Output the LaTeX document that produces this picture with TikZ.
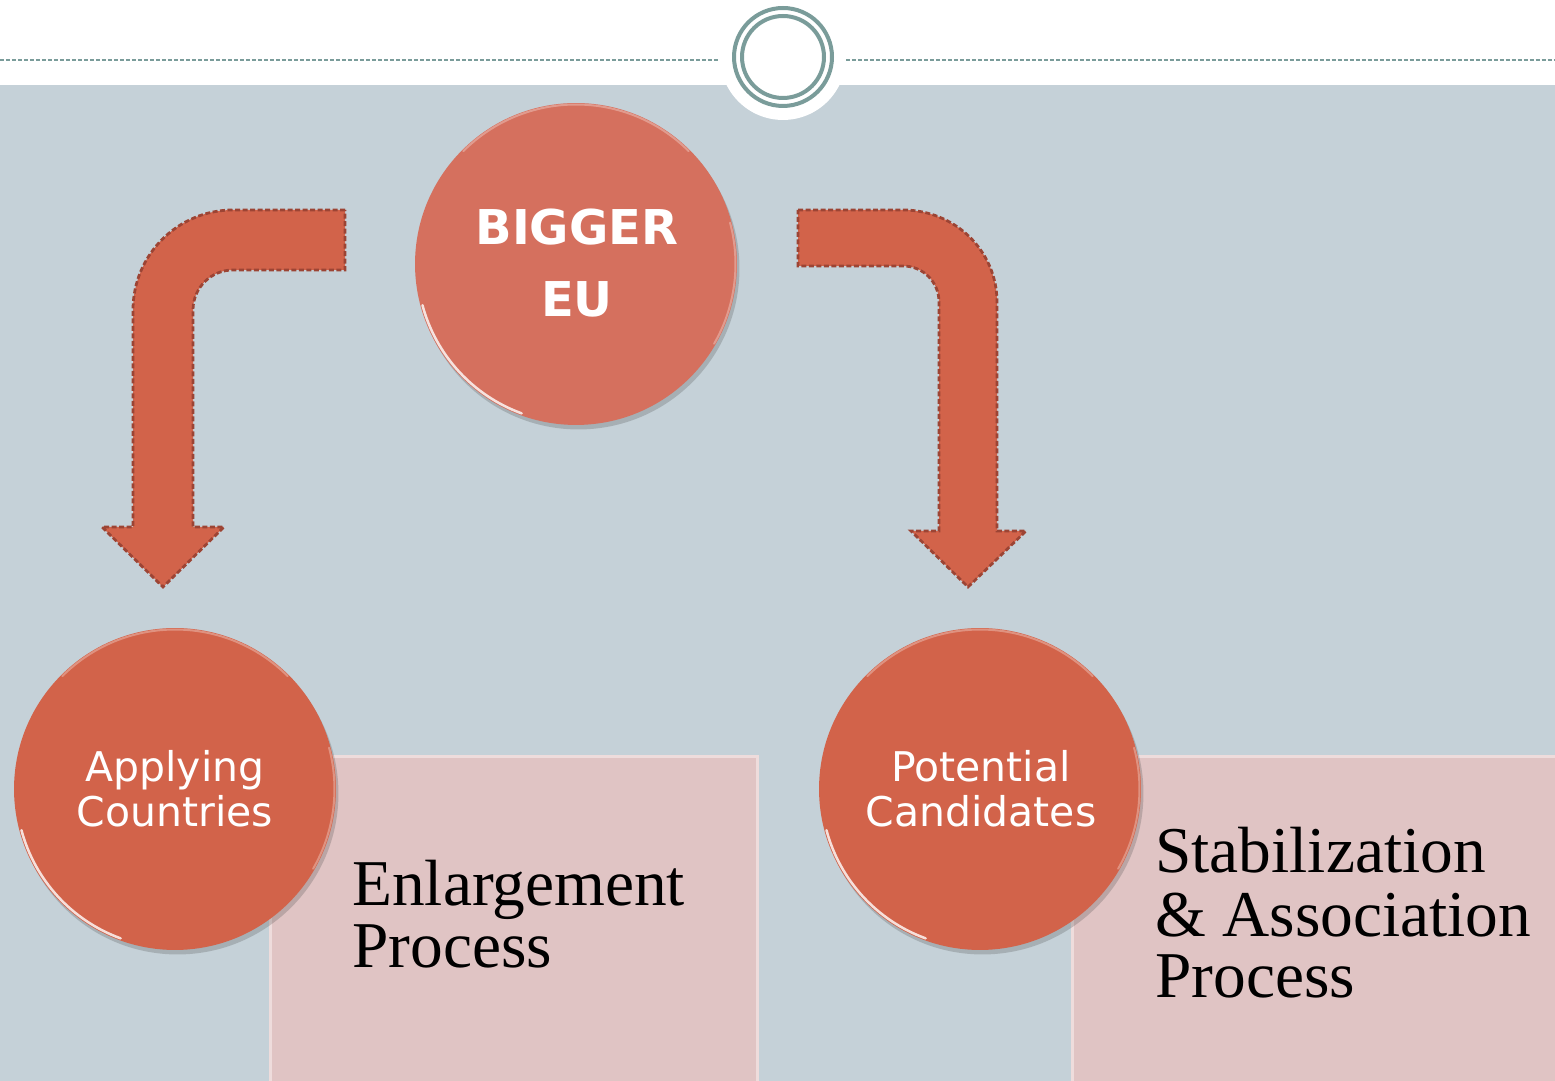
\documentclass[tikz,border=0pt]{standalone}
\usepackage{fontspec}
\setmainfont{Liberation Serif}
\newfontfamily\vsans{DejaVu Sans}
\usetikzlibrary{shadows}
\definecolor{slate}{HTML}{C5D1D8}
\definecolor{ringteal}{HTML}{7A9C9A}
\definecolor{eucore}{HTML}{D5705E}
\definecolor{brick}{HTML}{D2634A}
\definecolor{brickedge}{HTML}{9C4434}
\definecolor{rosebox}{HTML}{E0C4C4}
\definecolor{roseedge}{HTML}{EEDCDC}
\tikzset{
  ball/.style={circle, inner sep=0pt, minimum size=6.44cm,
    drop shadow={shadow xshift=0.05cm, shadow yshift=-0.09cm, opacity=0.25, fill=black!70}},
  bend arrow/.style={fill=brick, draw=brickedge, line width=0.055cm, dash pattern=on 0.1cm off 0.05cm},
  procbox/.style={fill=rosebox, draw=roseedge, line width=0.06cm},
  balltext/.style={anchor=base, inner sep=0pt, text=white, font=\vsans\fontsize{23.3}{28}\selectfont},
  eutext/.style={anchor=base, inner sep=0pt, text=white, font=\vsans\bfseries\fontsize{27.3}{33}\selectfont},
  proctext/.style={anchor=base west, inner sep=0pt, text=black, font=\fontsize{37.2}{45}\selectfont},
  gloss/.style={white, line width=0.05cm, opacity=0.8, line cap=round},
  sheen/.style={white, line width=0.04cm, opacity=0.3, line cap=round}
}
\begin{document}
\begin{tikzpicture}[x=0.02cm, y=0.02cm]
\useasboundingbox (0,0) rectangle (1555,1081);
% page: white header band and slate body
\fill[white] (0,0) rectangle (1555,1081);
\fill[slate] (0,0) rectangle (1555,996);
% header rule broken by the white notch
\draw[ringteal, line width=0.03cm, dash pattern=on 0.08cm off 0.04cm] (0,1021) -- (1555,1021);
\coordinate (notch) at (783,1024);
\fill[white] (notch) circle[radius=1.26cm];
\draw[ringteal, line width=0.08cm] (notch) circle[radius=0.98cm];
\draw[ringteal, line width=0.08cm] (notch) circle[radius=0.82cm];

% process boxes
\path[procbox] (270,-5) rectangle (757,324);
\path[procbox] (1072,-5) rectangle (1565,324);
\node[proctext] (enl1) at (352,175) {Enlargement};
\node[proctext] (enl2) at (352,113) {Process};
\node[proctext] (sap1) at (1155,208) {Stabilization};
\node[proctext] (sap2) at (1155,144) {\& Association};
\node[proctext] (sap3) at (1155,83) {Process};

% bent arrows
\path[bend arrow] (345,871) -- (233,871) .. controls (177.8,871) and (133,826.2) .. (133,771)
  -- (133,554) -- (102,554) -- (163,494) -- (224,554) -- (193,554) -- (193,771)
  .. controls (193,793.1) and (210.9,811) .. (233,811) -- (345,811) -- cycle;
\path[bend arrow] (798,871) -- (903,871) .. controls (955,871) and (997,830) .. (997,779)
  -- (997,550) -- (1026,550) -- (968,494) -- (911,550) -- (939,550) -- (939,779)
  .. controls (939,799) and (923,815) .. (903,815) -- (798,815) -- cycle;

% circles with a glossy rim
\node[ball, fill=eucore] (eu) at (576,817) {};
\node[ball, fill=brick] (app) at (175,292) {};
\node[ball, fill=brick] (pot) at (980,292) {};
\foreach \c in {eu,app,pot}{
  \draw[gloss] ([shift={(195:3.18cm)}]\c.center) arc[start angle=195, end angle=250, radius=3.18cm];
  \draw[sheen] ([shift={(45:3.19cm)}]\c.center) arc[start angle=45, end angle=135, radius=3.19cm];
  \draw[sheen] ([shift={(-30:3.19cm)}]\c.center) arc[start angle=-30, end angle=15, radius=3.19cm];
}
\node[eutext] (eu1) at (577,836) {BIGGER};
\node[eutext] (eu2) at (577,764) {EU};
\node[balltext] (app1) at (175,299) {Applying};
\node[balltext] (app2) at (175,254) {Countries};
\node[balltext] (pot1) at (981,299) {Potential};
\node[balltext] (pot2) at (981,254) {Candidates};
\end{tikzpicture}
\end{document}
